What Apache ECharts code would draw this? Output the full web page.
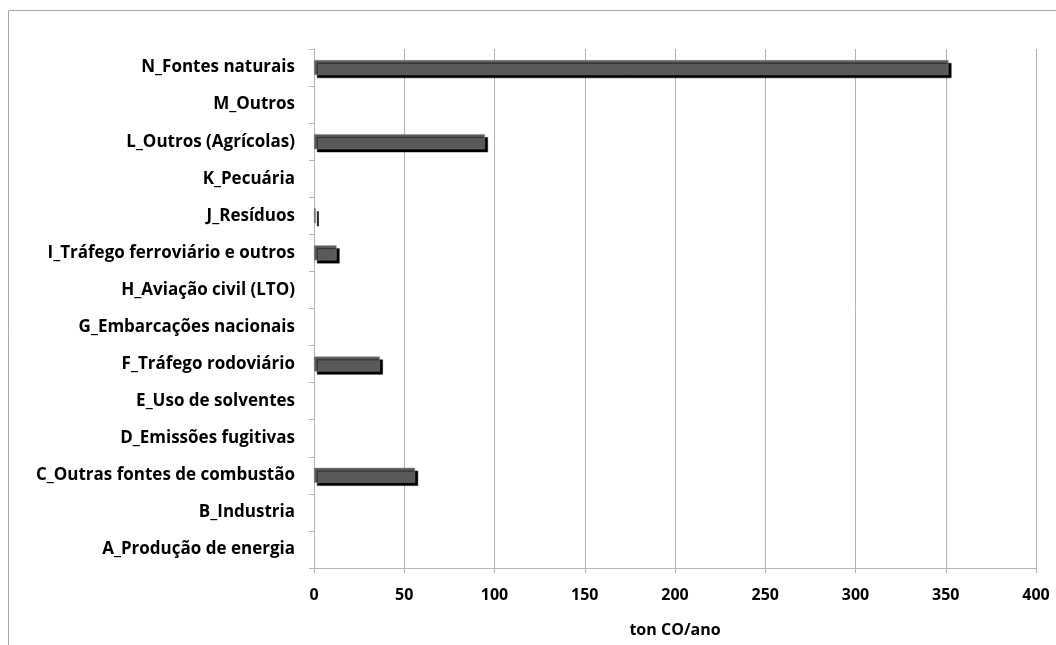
<!DOCTYPE html>
<html>
<head>
<meta charset="utf-8">
<script src="https://cdn.jsdelivr.net/npm/echarts@6/dist/echarts.min.js"></script>
<style>
  html, body { margin: 0; padding: 0; background: #fff; }
  #chart { width: 1056px; height: 645px; }
</style>
</head>
<body>
<div id="chart"></div>
<script>
// Emission sectors (bottom to top)
const categories = [
  'A_Produção de energia',
  'B_Industria',
  'C_Outras fontes de combustão',
  'D_Emissões fugitivas',
  'E_Uso de solventes',
  'F_Tráfego rodoviário',
  'G_Embarcações nacionais',
  'H_Aviação civil (LTO)',
  'I_Tráfego ferroviário e outros',
  'J_Resíduos',
  'K_Pecuária',
  'L_Outros (Agrícolas)',
  'M_Outros',
  'N_Fontes naturais'
];
// CO emissions, ton/year
const emissions = [0, 0, 56, 0, 0, 36.5, 0, 0, 12.5, 1, 0, 94.7, 0, 351.5];
const xTicks = { min: 0, max: 400, interval: 50 };
const axisName = 'ton CO/ano';

const chart = echarts.init(document.getElementById('chart'), null, { renderer: 'canvas' });
const font = '"Open Sans", sans-serif';

chart.setOption({
  animation: false,
  backgroundColor: '#ffffff',
  graphic: [{
    type: 'rect',
    shape: { x: 8.5, y: 10.5, width: 1200, height: 800 },
    style: { fill: 'none', stroke: '#a6a6a6', lineWidth: 1 },
    silent: true,
    z: -1
  }],
  grid: { left: 314, right: 20, top: 49, bottom: 77, containLabel: false },
  xAxis: {
    type: 'value',
    min: xTicks.min,
    max: xTicks.max,
    interval: xTicks.interval,
    name: axisName,
    nameLocation: 'middle',
    nameGap: 54,
    nameTextStyle: { fontFamily: font, fontWeight: 700, fontSize: 16, color: '#000' },
    axisLine: { show: true, lineStyle: { color: '#b3b3b3', width: 1 } },
    axisTick: { show: true, length: 5, lineStyle: { color: '#b3b3b3' } },
    axisLabel: { margin: 19, fontFamily: font, fontWeight: 700, fontSize: 16, color: '#000' },
    splitLine: { show: true, lineStyle: { color: '#b3b3b3', width: 1 } }
  },
  yAxis: {
    type: 'category',
    data: categories,
    axisLine: { show: true, lineStyle: { color: '#b3b3b3', width: 1 } },
    axisTick: { show: true, length: 5, lineStyle: { color: '#b3b3b3' } },
    axisLabel: { margin: 19, fontFamily: font, fontWeight: 700, fontSize: 17, color: '#000' },
    splitLine: { show: false }
  },
  series: [{
    type: 'bar',
    // sectors with no emissions are left empty so no shadow stub is drawn
    data: emissions.map(v => (v === 0 ? '-' : v)),
    barWidth: 15,
    itemStyle: {
      color: '#595959',
      borderColor: '#8c8c8c',
      borderWidth: 0.5,
      shadowColor: '#000000',
      shadowBlur: 0,
      shadowOffsetX: 3,
      shadowOffsetY: 3
    }
  }]
});
</script>
</body>
</html>
